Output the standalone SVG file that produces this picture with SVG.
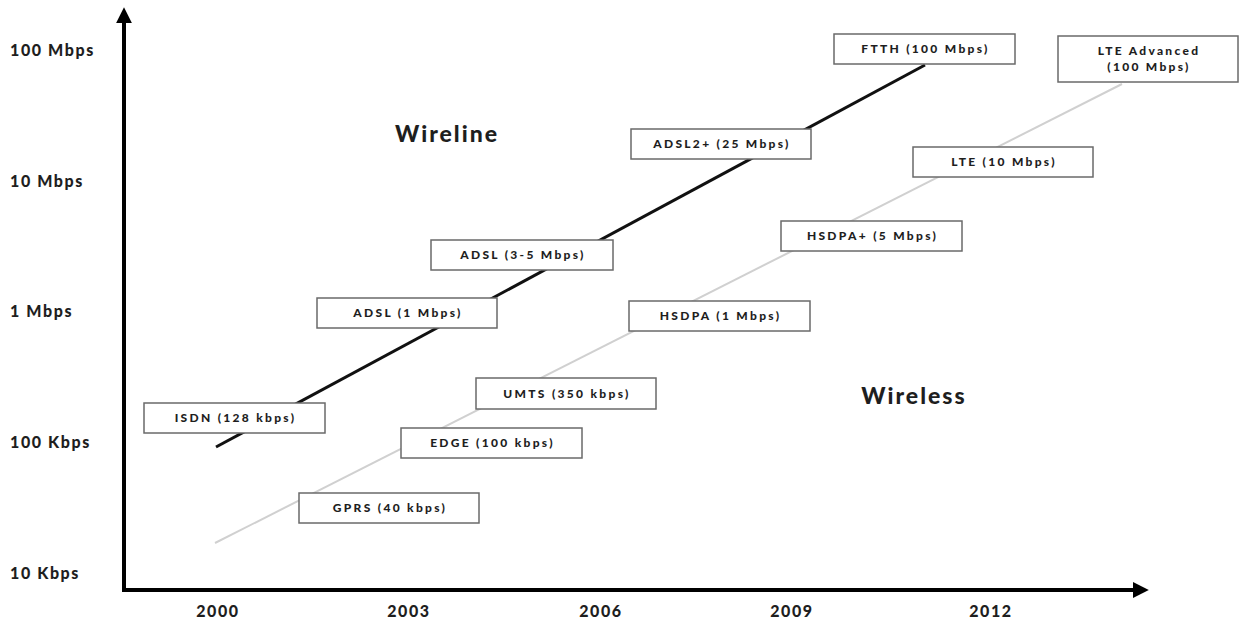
<svg xmlns="http://www.w3.org/2000/svg" width="1241" height="623" viewBox="0 0 1241 623">
  <style>
    .axis { stroke: #000; stroke-width: 4; fill: none; }
    .wire { stroke: #111; stroke-width: 3; fill: none; }
    .wless { stroke: #d0d0d0; stroke-width: 2; fill: none; }
    .box rect { fill: #fff; stroke: #6a6a6a; stroke-width: 1.5; }
    .box text { font-family: Lato, "DejaVu Sans", sans-serif; font-weight: 900; font-size: 12px; letter-spacing: 2.3px; fill: #1e1e1e; text-anchor: middle; }
    .tick { font-family: Lato, "DejaVu Sans", sans-serif; font-weight: 900; font-size: 16px; letter-spacing: 1.6px; fill: #1e1e1e; }
    .region { font-family: Lato, "DejaVu Sans", sans-serif; font-weight: 900; font-size: 23px; letter-spacing: 2px; fill: #1e1e1e; text-anchor: middle; }
  </style>
  <defs>
    <marker id="arrow" viewBox="0 0 10 10" refX="2" refY="5" markerWidth="4" markerHeight="4" orient="auto">
      <path d="M0,0 L10,5 L0,10 z" fill="#000"/>
    </marker>
  </defs>
  <rect width="1241" height="623" fill="#fff"/>

  <!-- axes -->
  <g id="axes">
    <line class="axis" x1="124" y1="592" x2="124" y2="20" marker-end="url(#arrow)"/>
    <line class="axis" x1="122" y1="590" x2="1136" y2="590" marker-end="url(#arrow)"/>
  </g>

  <!-- axis labels -->
  <g id="y-labels" class="tick">
    <text x="10" y="56">100 Mbps</text>
    <text x="10" y="187">10 Mbps</text>
    <text x="10" y="317">1 Mbps</text>
    <text x="10" y="448">100 Kbps</text>
    <text x="10" y="579">10 Kbps</text>
  </g>
  <g id="x-labels" class="tick" text-anchor="middle">
    <text x="218" y="617">2000</text>
    <text x="409" y="617">2003</text>
    <text x="601" y="617">2006</text>
    <text x="792" y="617">2009</text>
    <text x="991" y="617">2012</text>
  </g>

  <!-- trend lines -->
  <g id="connectors">
    <line class="wless" x1="215" y1="543" x2="1122" y2="84"/>
    <line class="wire" x1="216" y1="447" x2="925" y2="65"/>
  </g>

  <g id="wireline-label"><text class="region" x="447" y="142">Wireline</text></g>
  <g id="wireless-label"><text class="region" x="914" y="404">Wireless</text></g>

  <!-- wireline technologies -->
  <g id="ftth" class="box"><rect x="834" y="34" width="181" height="30"/><text x="925.5" y="53">FTTH (100 Mbps)</text></g>
  <g id="adsl2plus" class="box"><rect x="631" y="129" width="180" height="30"/><text x="722" y="148">ADSL2+ (25 Mbps)</text></g>
  <g id="adsl-3-5" class="box"><rect x="431" y="240" width="182" height="30"/><text x="523" y="259">ADSL (3-5 Mbps)</text></g>
  <g id="adsl-1" class="box"><rect x="317" y="298" width="180" height="30"/><text x="408" y="317">ADSL (1 Mbps)</text></g>
  <g id="isdn" class="box"><rect x="144" y="403" width="181" height="30"/><text x="235.5" y="422">ISDN (128 kbps)</text></g>

  <!-- wireless technologies -->
  <g id="lte-advanced" class="box"><rect x="1058" y="36" width="180" height="46"/><text x="1149" y="55">LTE  Advanced</text><text x="1149" y="71">(100 Mbps)</text></g>
  <g id="lte" class="box"><rect x="913" y="147" width="180" height="30"/><text x="1004" y="166">LTE (10 Mbps)</text></g>
  <g id="hsdpa-plus" class="box"><rect x="781" y="221" width="181" height="30"/><text x="872.5" y="240">HSDPA+ (5 Mbps)</text></g>
  <g id="hsdpa" class="box"><rect x="629" y="301" width="181" height="30"/><text x="720.5" y="320">HSDPA (1 Mbps)</text></g>
  <g id="umts" class="box"><rect x="476" y="378" width="180" height="31"/><text x="567" y="398">UMTS (350 kbps)</text></g>
  <g id="edge" class="box"><rect x="401" y="428" width="181" height="30"/><text x="492.5" y="447">EDGE (100 kbps)</text></g>
  <g id="gprs" class="box"><rect x="299" y="493" width="180" height="30"/><text x="390" y="512">GPRS (40 kbps)</text></g>
</svg>
